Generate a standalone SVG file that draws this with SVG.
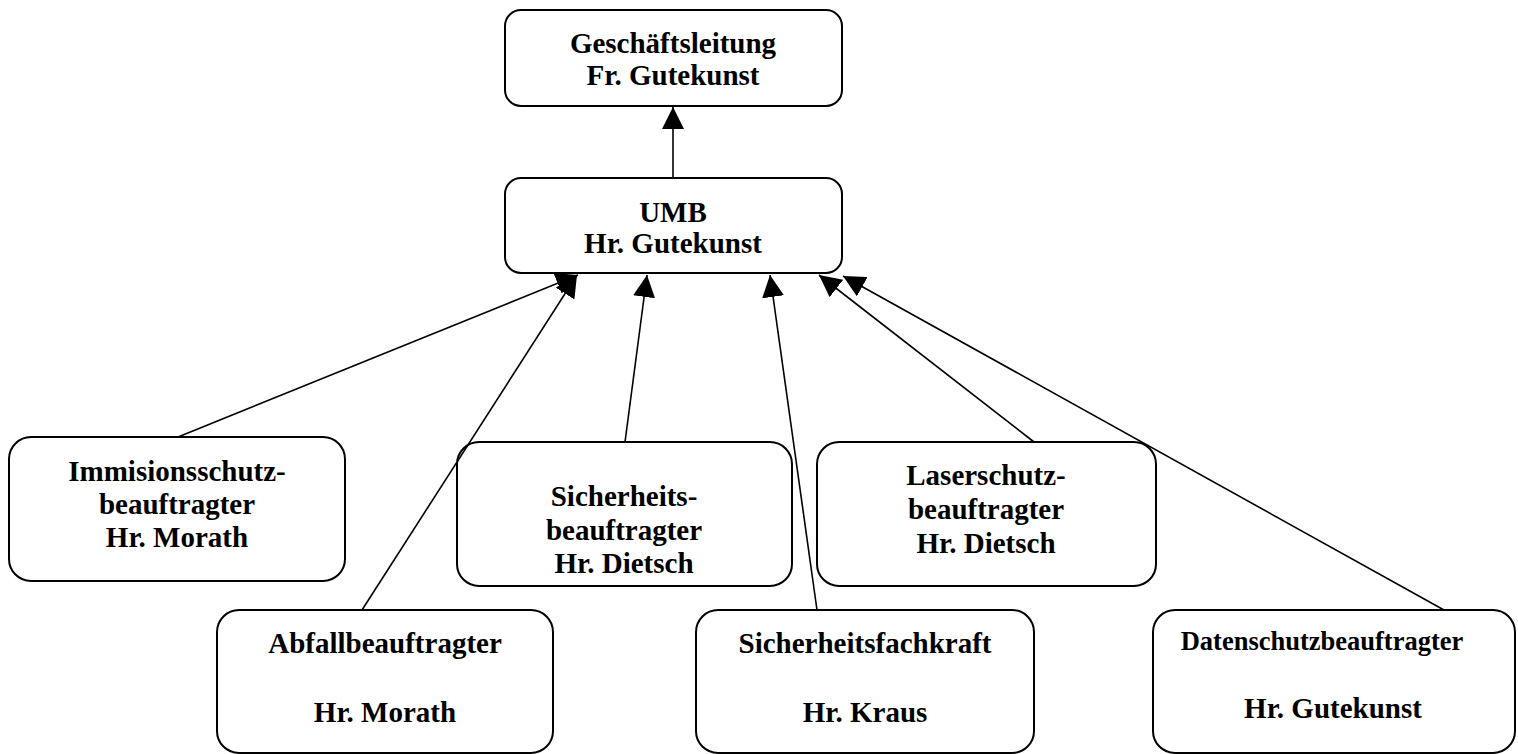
<svg xmlns="http://www.w3.org/2000/svg" width="1518" height="754" viewBox="0 0 1518 754">
<style>
.box{fill:#fff;stroke:#000;stroke-width:2}
.t{font-family:"Liberation Serif","Times New Roman",serif;font-weight:bold;font-size:29px;text-anchor:middle;fill:#000}
.c{stroke:#000;stroke-width:1.6;fill:none;marker-end:url(#ah)}
</style>
<defs>
<marker id="ah" markerUnits="userSpaceOnUse" markerWidth="22" markerHeight="22" viewBox="0 0 20 20" refX="20" refY="10" orient="auto">
<path d="M0,0 L20,10 L0,20 z" fill="#000"/>
</marker>
</defs>
<rect width="1518" height="754" fill="#fff"/>
<g id="geschaeftsleitung">
<rect class="box" x="505" y="10" width="337" height="96" rx="16"/>
<text class="t" x="673" y="53">Geschäftsleitung</text>
<text class="t" x="673" y="85">Fr. Gutekunst</text>
</g>
<g id="umb">
<rect class="box" x="505" y="178" width="337" height="95" rx="16"/>
<text class="t" x="673" y="222">UMB</text>
<text class="t" x="673" y="253">Hr. Gutekunst</text>
</g>
<g id="immisionsschutz">
<rect class="box" x="9" y="437" width="336" height="144" rx="22"/>
<text class="t" x="177" y="481">Immisionsschutz-</text>
<text class="t" x="177" y="514">beauftragter</text>
<text class="t" x="177" y="547">Hr. Morath</text>
</g>
<g id="sicherheitsbeauftragter">
<rect class="box" x="457" y="442" width="335" height="144" rx="22"/>
<text class="t" x="624" y="506">Sicherheits-</text>
<text class="t" x="624" y="540">beauftragter</text>
<text class="t" x="624" y="573">Hr. Dietsch</text>
</g>
<g id="laserschutz">
<rect class="box" x="817" y="442" width="339" height="144" rx="22"/>
<text class="t" x="986" y="485">Laserschutz-</text>
<text class="t" x="986" y="519">beauftragter</text>
<text class="t" x="986" y="553">Hr. Dietsch</text>
</g>
<g id="abfall">
<rect class="box" x="217" y="610" width="336" height="143" rx="22"/>
<text class="t" x="385" y="653">Abfallbeauftragter</text>
<text class="t" x="385" y="722">Hr. Morath</text>
</g>
<g id="sicherheitsfachkraft">
<rect class="box" x="696" y="610" width="338" height="143" rx="22"/>
<text class="t" x="865" y="653">Sicherheitsfachkraft</text>
<text class="t" x="865" y="722">Hr. Kraus</text>
</g>
<g id="datenschutz">
<rect class="box" x="1153" y="610" width="362" height="143" rx="22"/>
<text class="t" x="1322" y="650" style="font-size:26.5px">Datenschutzbeauftragter</text>
<text class="t" x="1333" y="718">Hr. Gutekunst</text>
</g>
<g id="connectors">
<line class="c" x1="673" y1="178" x2="673" y2="107"/>
<line class="c" x1="178" y1="437" x2="578" y2="275"/>
<line class="c" x1="362" y1="610" x2="577" y2="275"/>
<line class="c" x1="625" y1="442" x2="647" y2="275"/>
<line class="c" x1="817" y1="610" x2="770" y2="275"/>
<line class="c" x1="1034" y1="442" x2="819" y2="275"/>
<line class="c" x1="1444" y1="610" x2="843" y2="276"/>
</g>
</svg>
